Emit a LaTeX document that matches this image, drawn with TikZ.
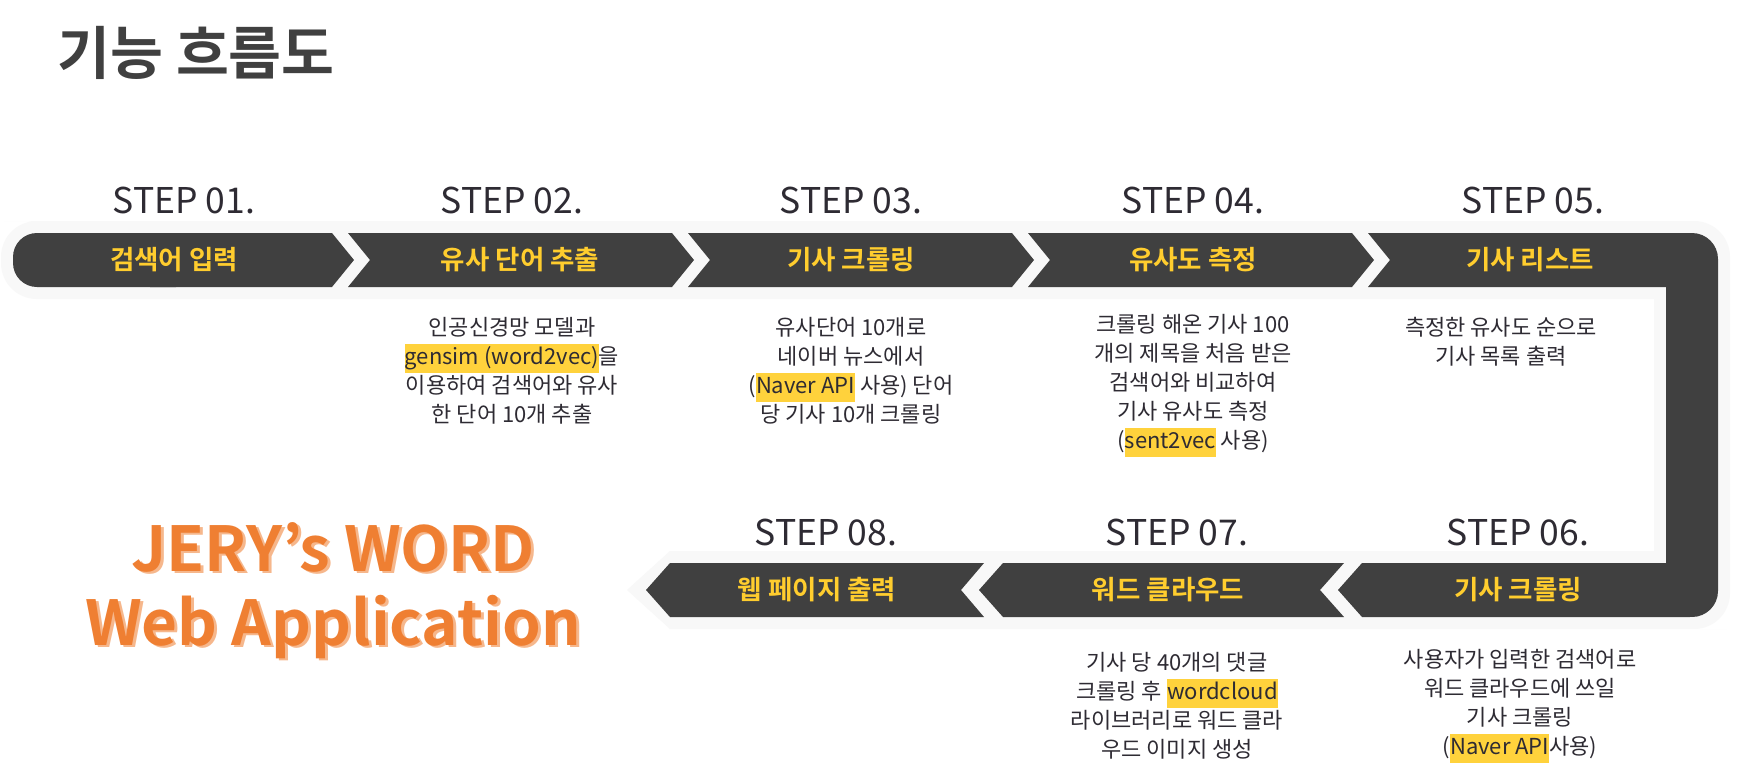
\documentclass[tikz,border=0pt]{standalone}
\usepackage{fontspec}
\setmainfont{Noto Sans CJK KR}[BoldFont={Noto Sans CJK KR Bold}]
\usepackage{xcolor}
\usetikzlibrary{positioning}
\definecolor{flowgray}{RGB}{64,64,64}
\definecolor{flowhalo}{RGB}{248,248,248}
\definecolor{flowyellow}{RGB}{255,205,46}
\definecolor{flowmark}{RGB}{255,210,60}
\definecolor{flowtext}{RGB}{46,43,51}
\definecolor{floworange}{RGB}{239,127,50}
\definecolor{flowpeach}{RGB}{246,183,140}
\newcommand{\hlword}[1]{{\setlength{\fboxsep}{0pt}\colorbox{flowmark}{\strut#1}}}
\tikzset{
  stepbox/.style={fill=flowgray},
  steptitle/.style={inner sep=0, text=flowtext, font=\fontsize{35.5}{40}\selectfont},
  bandlabel/.style={inner sep=0, text=flowyellow, font=\bfseries\fontsize{26.5}{30}\selectfont},
  stepnote/.style={inner sep=0, text=flowtext, align=center, font=\fontsize{22}{29}\selectfont}
}

\begin{document}
\begin{tikzpicture}[x=1pt, y=-1pt]
    \useasboundingbox (0,0) rectangle (1738,782);
    \fill[white] (0,0) rectangle (1738,782);

    % Title
    \node[inner sep=0, anchor=west, text=flowgray, font=\bfseries\fontsize{57.5}{60}\selectfont] (title) at (57,53) {기능 흐름도};

    % Halo behind the band
    \fill[flowhalo] (700,221) -- (1690,221) [rounded corners=36] -- (1730,221) -- (1730,629) -- (1690,629) [sharp corners] -- (670,629) -- (627,590) -- (670,551) -- (1654,551) -- (1654,299) -- (40,299) [rounded corners=36] -- (1,299) -- (1,221) -- (40,221) [sharp corners] -- cycle;

    % Top row segments
    \fill[stepbox, rounded corners=24] (13,233) rectangle (200,287);
    \fill[stepbox] (150,233) -- (332,233) -- (354,260) -- (332,287) -- (150,287) -- cycle;
    \fill[stepbox] (348,233) -- (672,233) -- (694,260) -- (672,287) -- (348,287) -- (370,260) -- cycle;
    \fill[stepbox] (688,233) -- (1012,233) -- (1034,260) -- (1012,287) -- (688,287) -- (710,260) -- cycle;
    \fill[stepbox] (1028,233) -- (1352,233) -- (1374,260) -- (1352,287) -- (1028,287) -- (1050,260) -- cycle;
    \fill[stepbox] (1368,233) -- (1690,233) -- (1690,287) -- (1368,287) -- (1390,260) -- cycle;

    % Right bar
    \fill[stepbox, rounded corners=26] (1666,233) rectangle (1718,617);

    % Bottom row segments
    \fill[stepbox] (1362,563) -- (1690,563) -- (1690,617) -- (1362,617) -- (1338,590) -- cycle;
    \fill[stepbox] (1003,563) -- (1344,563) -- (1320,590) -- (1344,617) -- (1003,617) -- (979,590) -- cycle;
    \fill[stepbox] (670,563) -- (984,563) -- (961,590) -- (984,617) -- (670,617) -- (646,590) -- cycle;

    % Step titles
    \node[steptitle] (s1) at (184,200) {STEP 01.};
    \node[steptitle] (s2) at (512,200) {STEP 02.};
    \node[steptitle] (s3) at (851,200) {STEP 03.};
    \node[steptitle] (s4) at (1193,200) {STEP 04.};
    \node[steptitle] (s5) at (1533,200) {STEP 05.};
    \node[steptitle] (s6) at (1518,532) {STEP 06.};
    \node[steptitle] (s7) at (1177,532) {STEP 07.};
    \node[steptitle] (s8) at (826,532) {STEP 08.};

    % Band labels
    \node[bandlabel] (b1) at (174,260) {검색어 입력};
    \node[bandlabel] (b2) at (520,260) {유사 단어 추출};
    \node[bandlabel] (b3) at (851,260) {기사 크롤링};
    \node[bandlabel] (b4) at (1193,260) {유사도 측정};
    \node[bandlabel] (b5) at (1530,260) {기사 리스트};
    \node[bandlabel] (b6) at (1518,590) {기사 크롤링};
    \node[bandlabel] (b7) at (1168,590) {워드 클라우드};
    \node[bandlabel] (b8) at (817,590) {웹 페이지 출력};

    % Notes
    \node[stepnote] (n2) at (512,371) {인공신경망 모델과\\\hlword{gensim (word2vec)}을\\이용하여 검색어와 유사\\한 단어 10개 추출};
    \node[stepnote] (n3) at (851,371) {유사단어 10개로\\네이버 뉴스에서\\(\hlword{Naver API} 사용) 단어\\당 기사 10개 크롤링};
    \node[stepnote] (n4) at (1193,386) {크롤링 해온 기사 100\\개의 제목을 처음 받은\\검색어와 비교하여\\기사 유사도 측정\\(\hlword{sent2vec} 사용)};
    \node[stepnote] (n5) at (1501,342) {측정한 유사도 순으로\\기사 목록 출력};
    \node[stepnote] (n7) at (1177,706) {기사 당 40개의 댓글\\크롤링 후 \hlword{wordcloud}\\라이브러리로 워드 클라\\우드 이미지 생성};
    \node[stepnote] (n6) at (1520,706) {사용자가 입력한 검색어로\\워드 클라우드에 쓰일\\기사 크롤링\\(\hlword{Naver API}사용)};

    % Application name
    \node[inner sep=0, align=center, text=flowpeach, font=\bfseries\fontsize{62}{74}\selectfont] (appshade) at (336,593) {JERY’s WORD\\Web Application};
    \node[inner sep=0, align=center, text=floworange, font=\bfseries\fontsize{62}{74}\selectfont] (app) at (333,591) {JERY’s WORD\\Web Application};
\end{tikzpicture}
\end{document}
